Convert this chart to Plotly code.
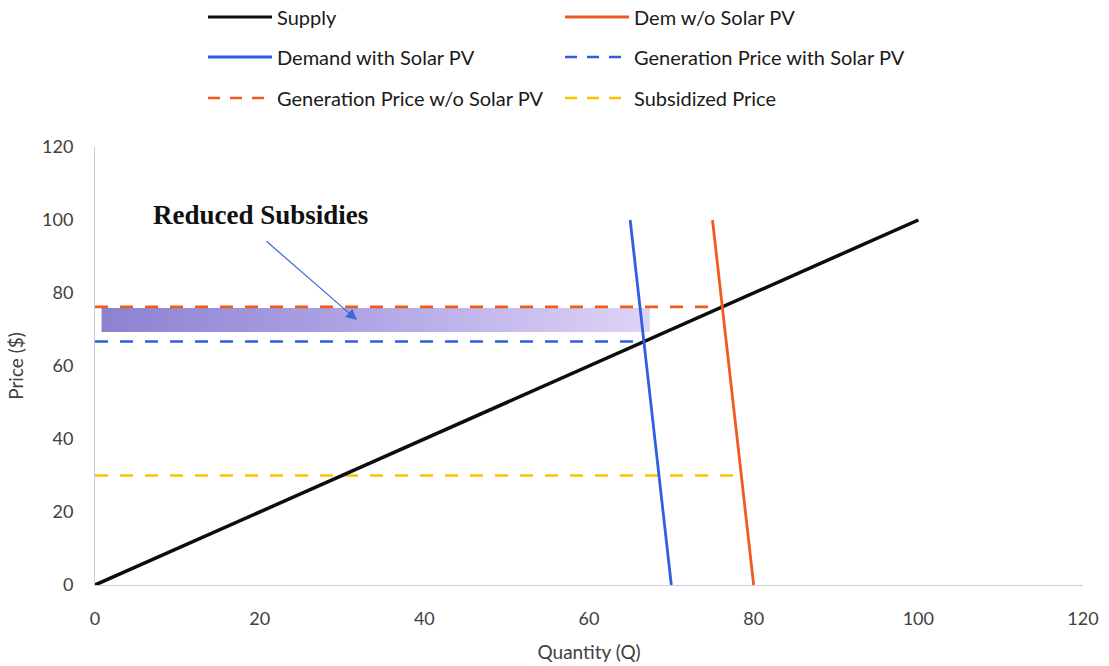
import plotly.graph_objects as go

# Supply and demand curves (quantity, price)
supply_q = [0, 100]
supply_p = [0, 100]
dem_solar_q = [65, 70]
dem_solar_p = [100, 0]
dem_nosolar_q = [75, 80]
dem_nosolar_p = [100, 0]

# Horizontal price levels
gen_price_solar_q = [0, 66.7]
gen_price_solar_p = [66.7, 66.7]
gen_price_nosolar_q = [0, 76.2]
gen_price_nosolar_p = [76.2, 76.2]
subsidized_q = [0, 77.5]
subsidized_p = [30, 30]

# Reduced-subsidies band
band_q = [0.8, 67.4]
band_p = [69.3, 75.9]

x_ticks = [0, 20, 40, 60, 80, 100, 120]
y_ticks = [0, 20, 40, 60, 80, 100, 120]

W, H = 1109, 666
ML, MR, MT, MB = 95, 26, 147, 81
PW, PH = W - ML - MR, H - MT - MB

BLACK = "#0d0d0d"
ORANGE = "#f05a1e"
BLUE = "#2f5fe0"
YELLOW = "#ffc000"
FONT = "Lato"


def px(xp):
    return (xp - ML) / PW


def py(yp):
    return (H - MB - yp) / PH


fig = go.Figure()

# shaded band with horizontal gradient
fig.add_trace(go.Scatter(
    x=[band_q[0], band_q[1], band_q[1], band_q[0], band_q[0]],
    y=[band_p[0], band_p[0], band_p[1], band_p[1], band_p[0]],
    mode="none", fill="toself",
    fillgradient=dict(type="horizontal",
                      colorscale=[[0, "rgb(140,130,210)"], [0.5, "rgb(178,166,230)"],
                                  [1, "rgb(222,212,246)"]]),
    hoverinfo="skip", showlegend=False,
))

dash = "13px,12px"
fig.add_trace(go.Scatter(x=subsidized_q, y=subsidized_p, mode="lines",
                         line=dict(color=YELLOW, width=2.6, dash=dash), name="Subsidized Price"))
fig.add_trace(go.Scatter(x=gen_price_solar_q, y=gen_price_solar_p, mode="lines",
                         line=dict(color=BLUE, width=2.6, dash=dash), name="Generation Price with Solar PV"))
fig.add_trace(go.Scatter(x=gen_price_nosolar_q, y=gen_price_nosolar_p, mode="lines",
                         line=dict(color=ORANGE, width=2.6, dash=dash), name="Generation Price w/o Solar PV"))
fig.add_trace(go.Scatter(x=supply_q, y=supply_p, mode="lines",
                         line=dict(color=BLACK, width=3.5), name="Supply"))
fig.add_trace(go.Scatter(x=dem_solar_q, y=dem_solar_p, mode="lines",
                         line=dict(color=BLUE, width=2.8), name="Demand with Solar PV"))
fig.add_trace(go.Scatter(x=dem_nosolar_q, y=dem_nosolar_p, mode="lines",
                         line=dict(color=ORANGE, width=2.8), name="Dem w/o Solar PV"))

# custom legend: 3 rows x 2 columns
legend_items = [
    ("Supply", BLACK, "solid", 208, 17),
    ("Dem w/o Solar PV", ORANGE, "solid", 565, 17),
    ("Demand with Solar PV", BLUE, "solid", 208, 57),
    ("Generation Price with Solar PV", BLUE, "dash", 565, 57),
    ("Generation Price w/o Solar PV", ORANGE, "dash", 208, 98),
    ("Subsidized Price", YELLOW, "dash", 565, 98),
]
shapes = []
annotations = []
for label, color, style, x0, yc in legend_items:
    shapes.append(dict(type="line", xref="paper", yref="paper",
                       x0=px(x0), x1=px(x0 + 64), y0=py(yc), y1=py(yc),
                       line=dict(color=color, width=3 if style == "solid" else 2.6,
                                 dash="solid" if style == "solid" else "12px,10px")))
    annotations.append(dict(xref="paper", yref="paper", x=px(x0 + 67), y=py(yc),
                            xanchor="left", yanchor="middle", showarrow=False,
                            text=label, font=dict(family=FONT, size=20, color="#1a1a1a")))

# callout
annotations.append(dict(xref="paper", yref="paper", x=px(151), y=py(215),
                        xanchor="left", yanchor="middle", showarrow=False,
                        text="<b>Reduced Subsidies</b>",
                        font=dict(family="Liberation Serif", size=27, color="#111111")))
annotations.append(dict(xref="paper", yref="paper", axref="pixel", ayref="pixel",
                        x=px(357), y=py(320), ax=265 - 357, ay=240 - 320,
                        showarrow=True, arrowhead=2, arrowsize=1.8, arrowwidth=1.2,
                        arrowcolor="#3a6ad8", text=""))

axis_line = "#c9cbe3"
fig.update_layout(
    width=W, height=H,
    margin=dict(l=ML, r=MR, t=MT, b=MB),
    paper_bgcolor="white", plot_bgcolor="white",
    showlegend=False,
    shapes=shapes, annotations=annotations,
    font=dict(family=FONT, size=18, color="#404040"),
    xaxis=dict(range=[0, 120], tickvals=x_ticks, showgrid=False, zeroline=False,
               showline=True, linecolor=axis_line, linewidth=1, ticks="",
               ticklabelstandoff=17, automargin=False,
               title=dict(text="Quantity (Q)", standoff=18, font=dict(size=19, color="#404040"))),
    yaxis=dict(range=[0, 120], tickvals=y_ticks, showgrid=False, zeroline=False,
               showline=True, linecolor=axis_line, linewidth=1, ticks="",
               ticklabelstandoff=17, automargin=False,
               title=dict(text="Price ($)", standoff=13, font=dict(size=19, color="#404040"))),
)

fig.write_html("out.html")
